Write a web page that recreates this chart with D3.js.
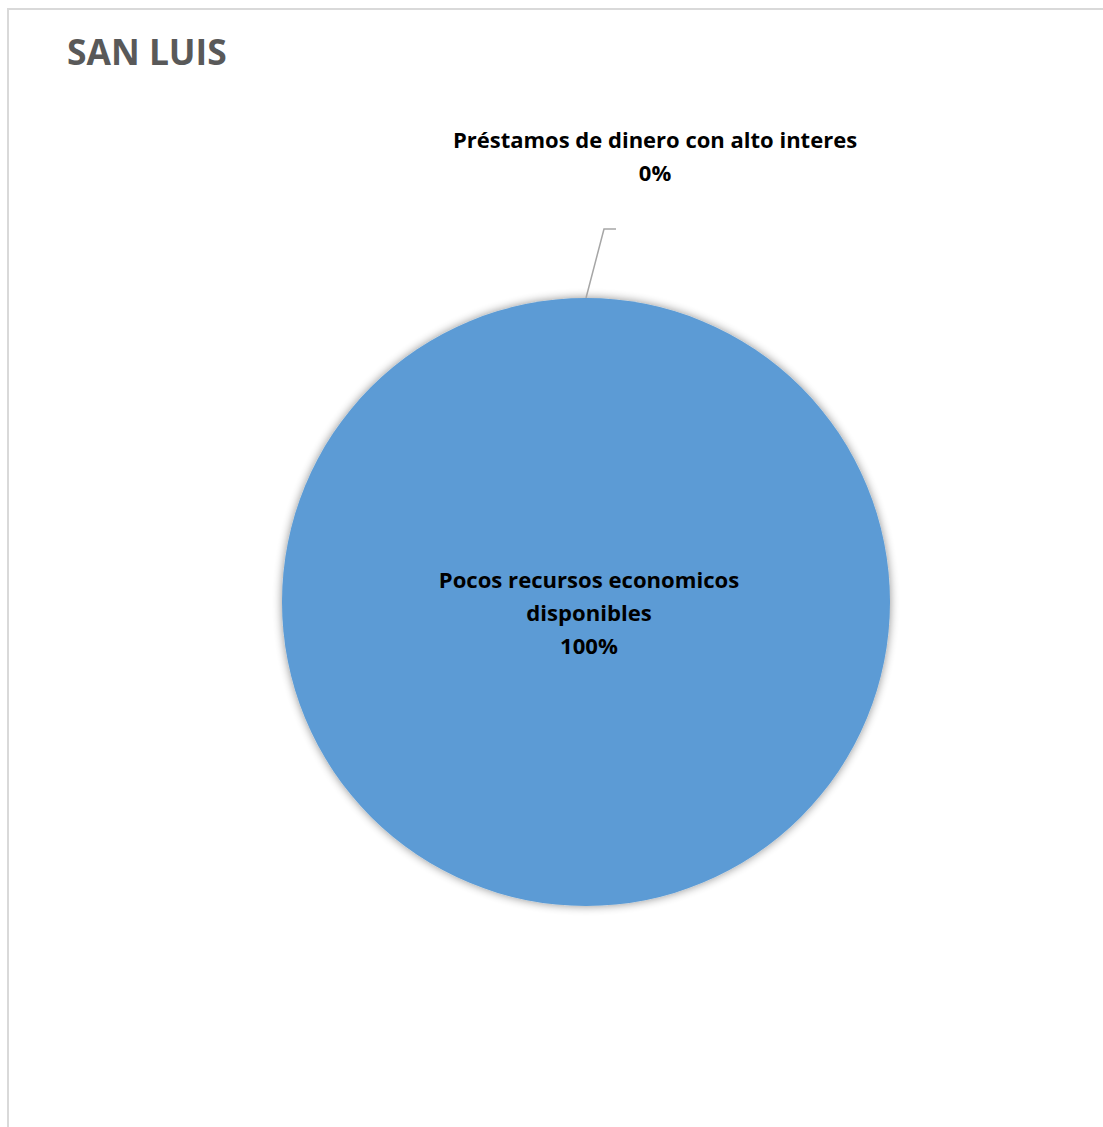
<!DOCTYPE html>
<html><head><meta charset="utf-8">
<script src="https://cdn.jsdelivr.net/npm/d3@7"></script>
<style>
html,body{margin:0;padding:0;background:#fff;}
svg{display:block;}
text{font-family:"Open Sans","Noto Sans",sans-serif;}
</style></head>
<body>
<svg id="chart" width="1103" height="1127"></svg>
<script>
const title = "SAN LUIS";
const categories = ["Pocos recursos economicos disponibles", "Préstamos de dinero con alto interes"];
const values = [100, 0];
const labelLines = [["Pocos recursos economicos", "disponibles"], ["Préstamos de dinero con alto interes"]];
const colors = ["#5B9BD5", "#ED7D31"];

const W = 1103, H = 1127;
const svg = d3.select("#chart");

// chart area border
svg.append("rect").attr("x", 8).attr("y", 9).attr("width", W + 10).attr("height", H + 10)
  .attr("fill", "#fff").attr("stroke", "#d9d9d9").attr("stroke-width", 2);

svg.append("text").attr("x", 67).attr("y", 65).text(title)
  .attr("font-size", 35.4).attr("font-weight", 700).attr("fill", "#595959");

const defs = svg.append("defs");
const f = defs.append("filter").attr("id", "sh").attr("x", "-20%").attr("y", "-20%").attr("width", "140%").attr("height", "140%");
f.append("feGaussianBlur").attr("in", "SourceAlpha").attr("stdDeviation", 5).attr("result", "b");
f.append("feOffset").attr("in", "b").attr("dx", 0).attr("dy", 0).attr("result", "o");
f.append("feComponentTransfer").attr("in", "o").attr("result", "t")
  .append("feFuncA").attr("type", "linear").attr("slope", 0.45);
const m = f.append("feMerge");
m.append("feMergeNode").attr("in", "t");
m.append("feMergeNode").attr("in", "SourceGraphic");

const cx = 586, cy = 602, r = 304;
const pie = d3.pie().sort(null).value(d => d)(values);
const arc = d3.arc().innerRadius(0).outerRadius(r);
const g = svg.append("g").attr("transform", `translate(${cx},${cy})`);
g.selectAll("path").data(pie).enter().append("path")
  .attr("d", arc).attr("fill", (d, i) => colors[i]).attr("filter", "url(#sh)");

const pct = d3.format(".0%");
const total = d3.sum(values);

// main label (inside)
const lbl0 = g.append("text").attr("text-anchor", "middle").attr("font-size", 22.1).attr("font-weight", 700).attr("fill", "#000");
const lines0 = labelLines[0].concat([pct(values[0] / total)]);
lines0.forEach((t, i) => lbl0.append("tspan").attr("x", 3).attr("y", -14 + i * 33).text(t));

// zero slice label via leader line
const s1 = pie[1];
const a = s1.startAngle;
const p0 = [Math.sin(a) * r, -Math.cos(a) * r];
const p1 = [p0[0] + 18, p0[1] - 69];
const p2 = [p1[0] + 12, p1[1]];
g.append("polyline").attr("points", [p0, p1, p2].map(p => p.join(",")).join(" "))
  .attr("fill", "none").attr("stroke", "#a6a6a6").attr("stroke-width", 1.5);
const lbl1 = g.append("text").attr("text-anchor", "middle").attr("font-size", 22).attr("font-weight", 700).attr("fill", "#000");
const lines1 = labelLines[1].concat([pct(values[1] / total)]);
lines1.forEach((t, i) => lbl1.append("tspan").attr("x", 69).attr("y", -454 + i * 33).text(t));
</script>
</body></html>
